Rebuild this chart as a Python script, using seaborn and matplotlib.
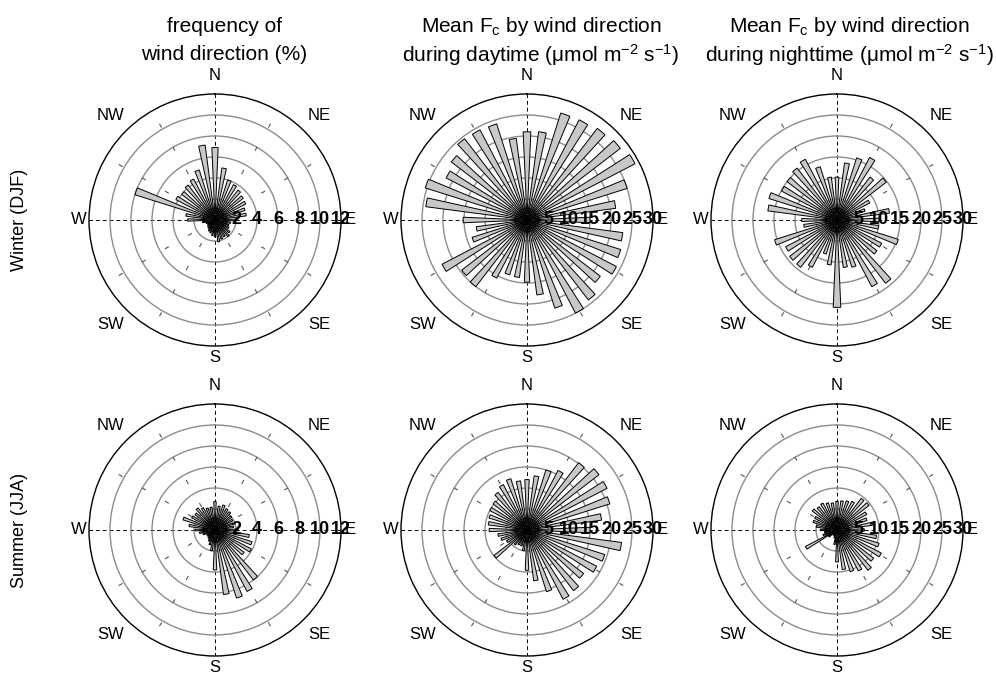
import numpy as np
import pandas as pd
import matplotlib.pyplot as plt
import seaborn as sns

# wind direction bins (degrees, clockwise from north)
directions = [0, 10, 20, 30, 40, 50, 60, 70, 80, 90, 100, 110,
              120, 130, 140, 150, 160, 170, 180, 190, 200, 210, 220, 230,
              240, 250, 260, 270, 280, 290, 300, 310, 320, 330, 340, 350]

# frequency of wind direction (%)
freq_winter = [6.9, 5.0, 4.0, 3.8, 3.6, 3.4, 3.3, 3.0, 3.0, 2.0, 1.5, 1.4,
               1.5, 1.8, 2.0, 1.8, 1.9, 2.1, 1.6, 1.5, 1.3, 1.2, 1.0, 0.9,
               0.8, 0.9, 1.2, 2.6, 2.8, 8.0, 4.2, 4.0, 4.2, 4.4, 5.0, 7.2]
freq_summer = [2.7, 2.3, 2.5, 2.3, 2.2, 2.0, 1.9, 1.8, 1.8, 2.2, 3.3, 3.7,
               3.9, 3.5, 6.0, 6.6, 6.8, 6.2, 3.8, 2.0, 1.5, 1.2, 1.0, 0.9,
               0.9, 1.2, 1.5, 1.9, 2.5, 3.2, 2.5, 2.4, 2.65, 2.4, 2.2, 2.2]

# mean Fc by wind direction, daytime
fc_day_winter = [21.0, 21.2, 26.7, 26.9, 27.5, 28.0, 29.0, 25.0, 21.3, 15.0, 23.0, 23.4,
                 24.0, 22.0, 24.0, 25.0, 22.0, 18.0, 14.8, 13.8, 13.7, 15.6, 20.0, 19.6,
                 22.8, 13.7, 12.2, 15.2, 24.3, 25.4, 21.7, 22.7, 24.4, 24.2, 24.0, 19.6]
fc_day_summer = [12.0, 13.0, 15.0, 16.0, 20.2, 21.6, 21.5, 20.7, 17.9, 15.0, 22.7, 19.4,
                 18.7, 17.0, 18.2, 18.6, 15.4, 12.2, 9.6, 5.0, 4.0, 4.0, 4.5, 9.9,
                 5.5, 6.5, 7.0, 9.0, 9.3, 9.5, 10.0, 10.2, 11.3, 12.2, 12.8, 11.8]

# mean Fc by wind direction, nighttime
fc_night_winter = [10.2, 13.7, 15.5, 16.8, 12.9, 14.8, 8.8, 7.0, 12.6, 10.0, 10.0, 15.3,
                   12.0, 12.0, 19.0, 17.9, 11.8, 11.4, 20.8, 10.8, 8.5, 12.7, 14.2, 14.2,
                   13.8, 15.6, 8.0, 8.4, 16.6, 17.0, 14.9, 15.0, 15.6, 16.3, 13.3, 10.3]
fc_night_summer = [6.8, 7.0, 7.3, 7.7, 9.5, 9.6, 8.0, 7.5, 8.5, 6.5, 9.5, 10.5,
                   11.9, 11.0, 12.1, 11.0, 10.4, 9.5, 7.6, 3.5, 2.0, 1.5, 1.5, 2.5,
                   8.5, 3.5, 3.0, 4.0, 5.0, 6.0, 6.0, 7.4, 7.0, 7.2, 6.8, 6.5]

col_titles = [["frequency of", "wind direction (%)"],
              ["Mean F$_c$ by wind direction", "during daytime (μmol m$^{-2}$ s$^{-1}$)"],
              ["Mean F$_c$ by wind direction", "during nighttime (μmol m$^{-2}$ s$^{-1}$)"]]
row_titles = ["Winter (DJF)", "Summer (JJA)"]
compass_labels = ["N", "NE", "E", "SE", "S", "SW", "W", "NW"]
compass_angles = [0, 45, 90, 135, 180, 225, 270, 315]
freq_ticks = [2, 4, 6, 8, 10, 12]
fc_ticks = [5, 10, 15, 20, 25, 30]

panels = [
    [freq_winter, fc_day_winter, fc_night_winter],
    [freq_summer, fc_day_summer, fc_night_summer],
]
col_ticks = [freq_ticks, fc_ticks, fc_ticks]

sns.set_style("white")
plt.rcParams['font.family'] = ['Liberation Sans', 'DejaVu Sans']
plt.rcParams['mathtext.default'] = 'regular'
plt.rcParams['text.color'] = 'black'

fig = plt.figure(figsize=(9.96, 6.75), dpi=100)

W, H = 996, 675
R = 126
centers_x = [215, 527, 837]
centers_y = [220, 530]
title_x = [224, 541, 849]
label_pos = {0: 1.15, 45: 1.17, 90: 1.07, 135: 1.17,
             180: 1.09, 225: 1.17, 270: 1.08, 315: 1.17}

for i in range(2):
    for j in range(3):
        cx, cy = centers_x[j], centers_y[i]
        ax = fig.add_axes([(cx - R) / W, (H - cy - R) / H, 2 * R / W, 2 * R / H],
                          projection='polar')
        ax.set_theta_zero_location('N')
        ax.set_theta_direction(-1)
        ticks = col_ticks[j]
        rmax = ticks[-1]

        df = pd.DataFrame({'dir': directions, 'val': panels[i][j]})
        ax.bar(np.deg2rad(df['dir']), df['val'], width=np.deg2rad(5.0),
               bottom=0, color='#c8c8c8', edgecolor='black', linewidth=0.7,
               align='center', zorder=3)

        # grid
        ax.set_ylim(0, rmax)
        ax.set_yticks(ticks[:-1])
        ax.set_yticklabels([])
        ax.set_xticks(np.deg2rad([0, 90, 180, 270]))
        ax.set_xticklabels([])
        ax.yaxis.grid(True, color='#8c8c8c', linewidth=1.0, linestyle='-')
        ax.xaxis.grid(True, color='black', linewidth=0.7, linestyle=(0, (4, 3)))
        for a in [30, 60, 120, 150, 210, 240, 300, 330]:
            ax.plot([np.deg2rad(a)] * 2, [0, rmax], color='#555555',
                    linewidth=0.8, linestyle=(0, (4, 20)), zorder=1)
        ax.spines['polar'].set_color('black')
        ax.spines['polar'].set_linewidth(1.0)
        ax.set_axisbelow(True)

        # radial tick labels along east
        for t in ticks:
            ax.text(np.deg2rad(90), t, str(t), ha='center', va='center',
                    fontsize=13, fontweight='bold', zorder=5)

        # compass labels
        for lab, a in zip(compass_labels, compass_angles):
            ax.text(np.deg2rad(a), rmax * label_pos[a], lab, ha='center',
                    va='center', fontsize=12, clip_on=False)

for j in range(3):
    fig.text(title_x[j] / W, 1 - 26 / H, col_titles[j][0], ha='center',
             va='center', fontsize=15)
    fig.text(title_x[j] / W, 1 - 55 / H, col_titles[j][1], ha='center',
             va='center', fontsize=15)

for i in range(2):
    fig.text(20 / W, 1 - centers_y[i] / H, row_titles[i], ha='center',
             va='center', rotation=90, fontsize=13)

fig.savefig("out.png", dpi=100)
